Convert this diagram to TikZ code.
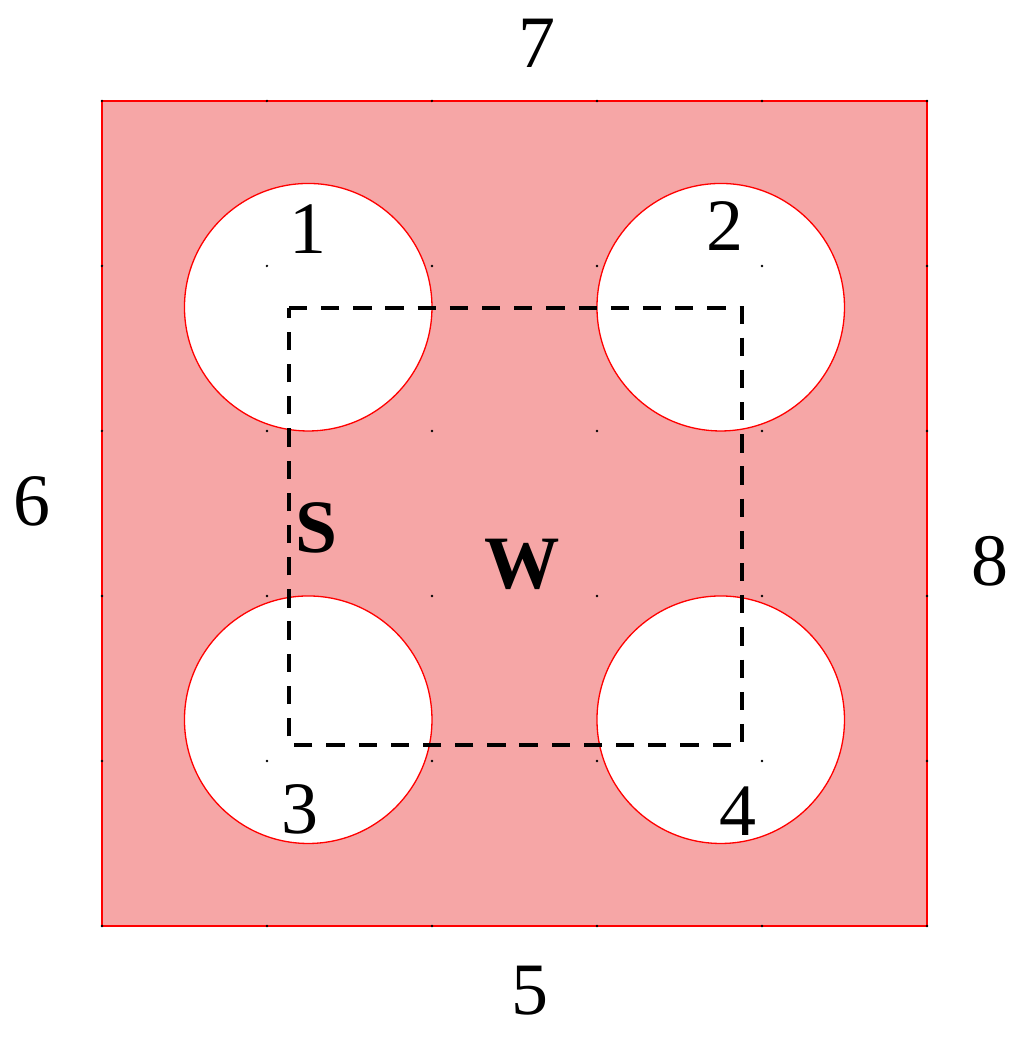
\documentclass[tikz,border=0pt]{standalone}
\usepackage{fontspec}
\setmainfont{Liberation Serif}
\definecolor{plate}{RGB}{246,166,166}
\definecolor{edge}{RGB}{255,0,0}
\begin{document}
\begin{tikzpicture}[x=2cm,y=2cm,
  lbl/.style={inner sep=0pt,font=\fontsize{25.5}{30}\selectfont},
  blbl/.style={inner sep=0pt,font=\fontsize{26}{30}\selectfont\bfseries},
  hole/.style={circle,draw=edge,line width=0.45pt,fill=white,minimum size=3cm,inner sep=0pt},
  gdot/.style={fill=black,circle,inner sep=0pt,minimum size=0.9pt}]
\useasboundingbox (-0.618,-0.691) rectangle (5.588,5.612);
\draw[edge,line width=0.45pt,fill=plate] (0,0) rectangle (5,5);
\node[hole] (h1) at (1.25,3.75) {};
\node[hole] (h2) at (3.75,3.75) {};
\node[hole] (h3) at (1.25,1.25) {};
\node[hole] (h4) at (3.75,1.25) {};
\foreach \i in {0,...,5}{\foreach \j in {0,...,5}{\node[gdot] at (\i,\j) {};}}
\draw[line width=1.6pt,dash pattern=on 6.3pt off 4.8pt] (1.133,3.745) -- (3.879,3.745) -- (3.879,1.097) -- (1.133,1.097) -- cycle;
\node[lbl] (n7) at (2.636,5.352) {7};
\node[lbl] (n6) at (-0.424,2.576) {6};
\node[lbl] (n8) at (5.382,2.212) {8};
\node[lbl] (n5) at (2.594,-0.394) {5};
\node[lbl] (n1) at (1.248,4.224) {1};
\node[lbl] (n2) at (3.776,4.242) {2};
\node[lbl] (n3) at (1.200,0.709) {3};
\node[lbl] (n4) at (3.855,0.697) {4};
\node[blbl] (s) at (1.297,2.412) {S};
\node[blbl] (w) at (2.545,2.194) {W};
\end{tikzpicture}
\end{document}
